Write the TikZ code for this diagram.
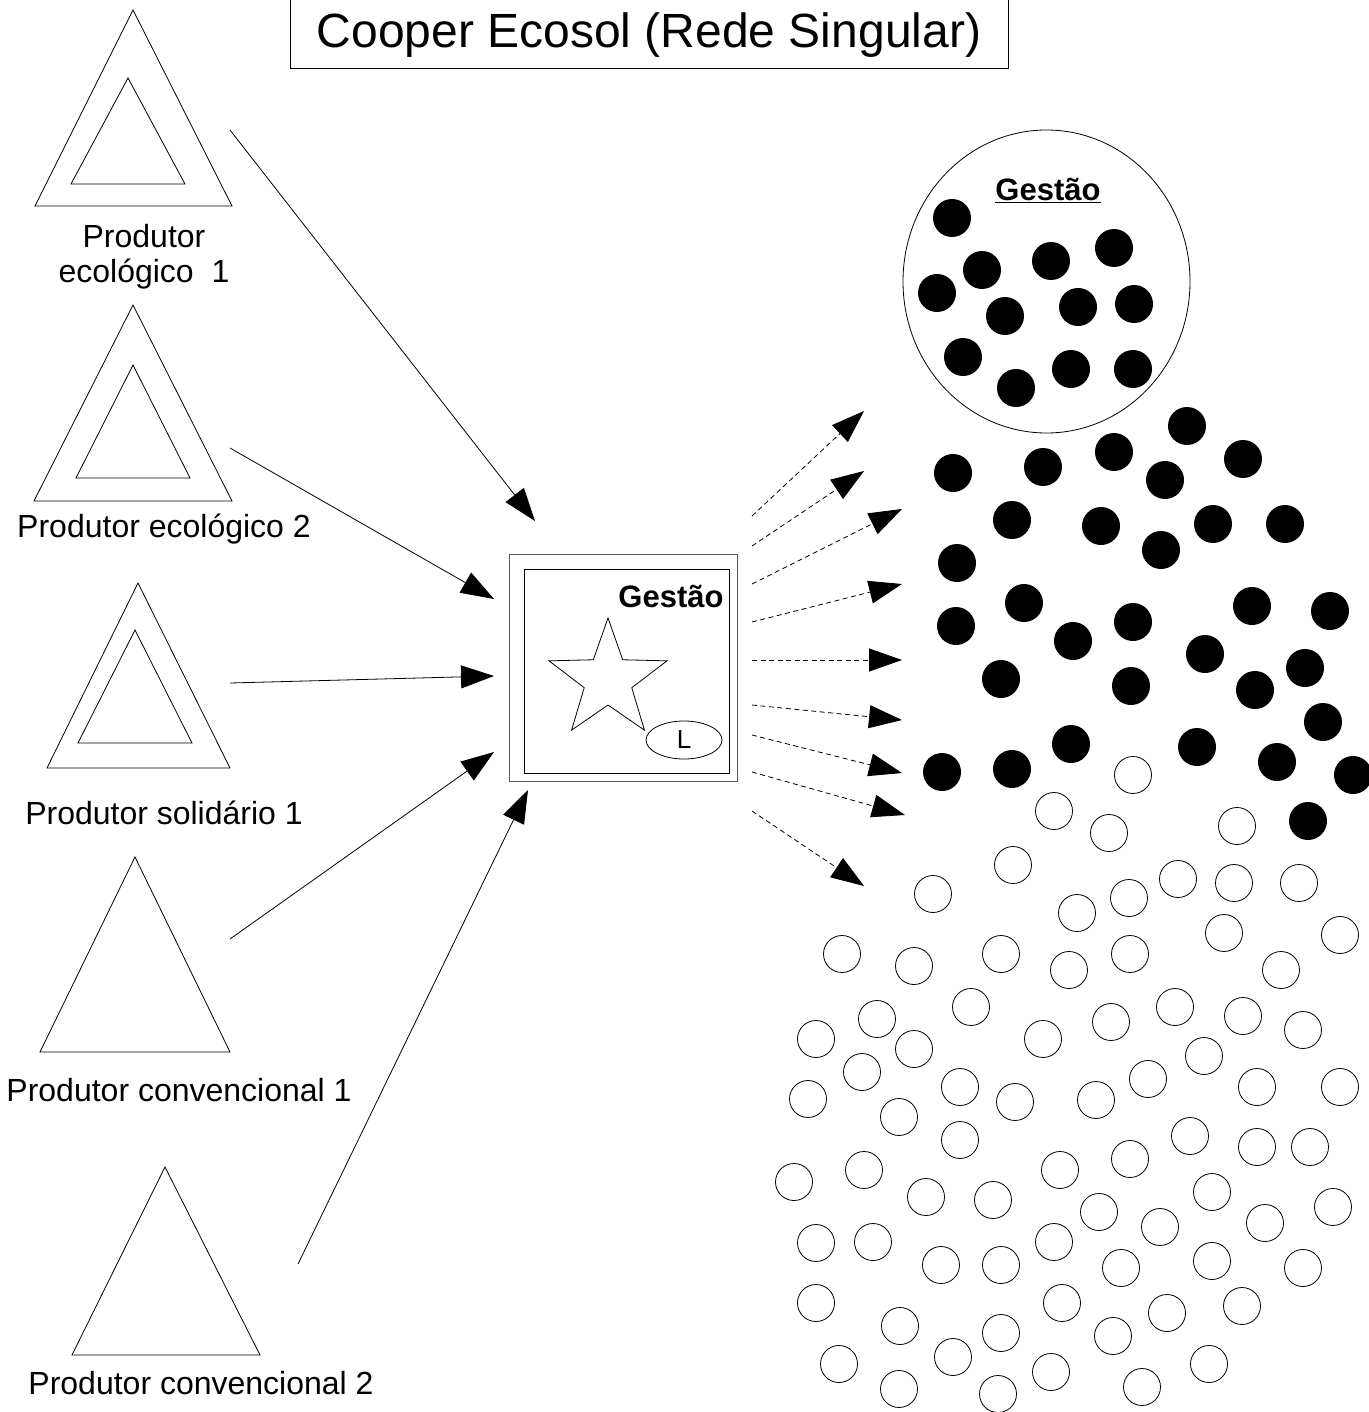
\documentclass[tikz,border=0pt]{standalone}
\usepackage{fontspec}
\setmainfont{Liberation Sans}
\usetikzlibrary{arrows.meta}
\tikzset{
  seta/.style={-{Triangle[length=33pt,width=23pt]}},
  fluxo/.style={seta, dash pattern=on 5pt off 3.5pt},
  rotulo/.style={font=\fontsize{32}{35}\selectfont, align=center},
  gestao/.style={font=\fontsize{31}{34}\selectfont\bfseries},
  cheio/.style={fill=black},
  vazio/.style={draw=black},
}

\begin{document}
\begin{tikzpicture}[x=1pt,y=-1pt,line width=0.8pt]
\useasboundingbox (0,0) rectangle (1368,1412);
% titulo
\draw (290,-2) rectangle (1008,68);
\node[font=\fontsize{48}{52}\selectfont] (titulo) at (649,35) {Cooper Ecosol (Rede Singular)};
% produtores
\draw (133,10) -- (232,206) -- (35,206) -- cycle;
\draw (128,78) -- (185,184) -- (71,184) -- cycle;
\node[rotulo] (pe1) at (144,257) {Produtor\\ecológico\ \ 1};
\draw (133,305) -- (232,501) -- (34,501) -- cycle;
\draw (133,365) -- (190,478) -- (76,478) -- cycle;
\node[rotulo] (pe2) at (164,529) {Produtor ecológico 2};
\draw (138,583) -- (230,768) -- (47,768) -- cycle;
\draw (135,630) -- (192,743) -- (78,743) -- cycle;
\node[rotulo] (ps1) at (164,813) {Produtor solidário 1};
\draw (135,857) -- (230,1052) -- (40,1052) -- cycle;
\node[rotulo] (pc1) at (179,1090) {Produtor convencional 1};
\draw (165,1167) -- (260,1355) -- (72,1355) -- cycle;
\node[rotulo] (pc2) at (201,1383) {Produtor convencional 2};
% cooperativa
\draw[gray!70!black] (509,554) rectangle (737,781);
\draw (524,569) rectangle (729,773);
\node[gestao] (g1) at (671,596) {Gestão};
\draw (608,680) +(270:62) -- +(306:25) -- +(342:62) -- +(18:25) -- +(54:62)
  -- +(90:25) -- +(126:62) -- +(162:25) -- +(198:62) -- +(234:25) -- cycle;
\draw (684,740) ellipse [x radius=38, y radius=19];
\node[font=\fontsize{26}{28}\selectfont] (lider) at (684,740) {L};
% setas dos produtores
\foreach \n/\p in {s1/{230,130}, t1/{535,521}, s2/{230,448}, t2/{494,599},
  s3/{230,683}, t3/{494,676}, s4/{230,939}, t4/{494,752}, s5/{298,1264}, t5/{528,790}}
  \coordinate (\n) at (\p);
\foreach \i in {1,...,5}
  \draw[seta] (s\i) -- (t\i);
% setas tracejadas
\foreach \n/\p in {e1/{864,411}, e2/{864,471}, e3/{902,509}, e4/{902,584}, e5/{902,660},
  e6/{902,720}, e7/{902,773}, e8/{905,815}, e9/{864,886}}
  \coordinate (\n) at (\p);
\foreach \i/\y in {1/516, 2/546, 3/584, 4/622, 5/660, 6/705, 7/735, 8/772, 9/811}{
  \coordinate (d\i) at (752,\y);
  \draw[fluxo] (d\i) -- (e\i);
}
% gestao (circulo)
\draw (1046.5,281.5) ellipse [x radius=143.5, y radius=151.5];
\node[gestao] (g2) at (1048,190) {\underline{Gestão}};
\foreach \x/\y in {952/218, 982/270, 937/293, 1051/261, 1114/248, 1005/316, 1078/307,
  1134/304, 963/357, 1016/388, 1071/369, 1133/369}
  \fill[cheio] (\x,\y) circle (19);
% socios
\foreach \x/\y in {953/473, 1043/467, 1114/452, 1012/520, 1101/526, 957/563, 1024/603,
  956/626, 1073/641, 1133/622, 1001/679, 1131/686, 1071/744, 942/772, 1012/769,
  1187/426, 1243/459, 1165/480, 1213/524, 1285/524, 1161/550, 1252/606, 1330/611,
  1205/654, 1305/668, 1255/690, 1323/722, 1197/747, 1277/762, 1353/775, 1308/821}
  \fill[cheio] (\x,\y) circle (19);
% consumidores
\foreach \x/\y in {1133/775, 1054/811, 1109/833, 1237/826, 1013/865, 933/894, 1077/913,
  842/954, 914/966, 1001/954, 1069/970, 971/1007, 877/1019, 816/1039, 914/1049,
  1043/1039, 862/1072, 960/1087, 808/1099, 1015/1102, 899/1117, 1178/879, 1234/883,
  1299/883, 1129/898, 1224/933, 1340/935, 1130/954, 1281/970, 1175/1007, 1111/1022,
  1243/1016, 1303/1030, 1204/1056, 1148/1079, 1096/1100, 1257/1087, 1340/1087,
  960/1140, 864/1170, 794/1182, 1060/1170, 926/1197, 993/1200, 816/1243, 873/1242,
  1054/1242, 941/1265, 1001/1265, 816/1303, 1062/1303, 900/1326, 1001/1333, 953/1357,
  839/1364, 1051/1372, 899/1389, 998/1394, 1190/1136, 1257/1147, 1310/1147, 1130/1159,
  1212/1192, 1099/1212, 1333/1207, 1160/1227, 1265/1223, 1121/1268, 1212/1261,
  1303/1268, 1242/1306, 1167/1313, 1113/1336, 1209/1364, 1142/1387}
  \draw[vazio] (\x,\y) circle (18.5);
\end{tikzpicture}
\end{document}
